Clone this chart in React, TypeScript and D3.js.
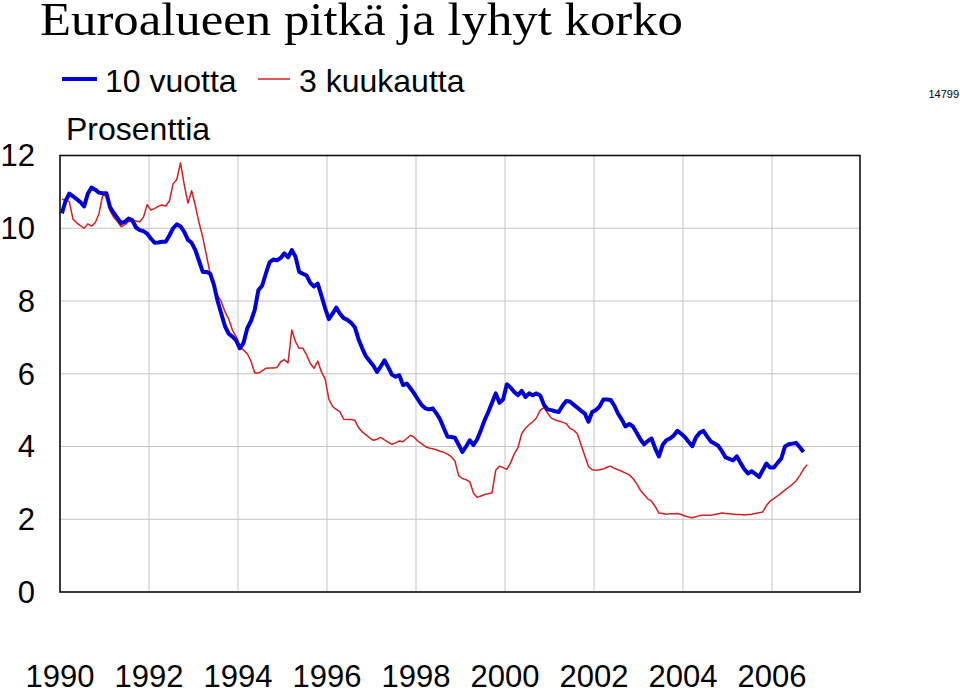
import React from "react";
import * as d3 from "d3";

const title = "Euroalueen pitkä ja lyhyt korko";
const unitLabel = "Prosenttia";
const seriesNames = ["10 vuotta", "3 kuukautta"];
const chartId = "14799";
const startYear = 1990;
const xTicks = [1990, 1992, 1994, 1996, 1998, 2000, 2002, 2004, 2006];
const yTicks = [0, 2, 4, 6, 8, 10, 12];

// Monthly values starting January 1990
const long10y = [
  10.41, 10.75, 10.95, 10.88, 10.8, 10.72, 10.6, 10.95, 11.12, 11.06, 10.98, 10.96,
  10.96, 10.58, 10.42, 10.28, 10.14, 10.18, 10.27, 10.22, 10.02, 9.95, 9.92, 9.85,
  9.72, 9.6, 9.61, 9.63, 9.63, 9.8, 10.0, 10.11, 10.05, 9.9, 9.68, 9.6,
  9.4, 9.1, 8.8, 8.8, 8.75, 8.45, 8.0, 7.65, 7.3, 7.1, 7.02, 6.92,
  6.7, 6.85, 7.25, 7.45, 7.75, 8.3, 8.42, 8.75, 9.06, 9.14, 9.12, 9.18,
  9.31, 9.2, 9.4, 9.22, 8.8, 8.75, 8.7, 8.5, 8.4, 8.48, 8.15, 7.8,
  7.5, 7.65, 7.82, 7.65, 7.53, 7.48, 7.4, 7.28, 6.95, 6.7, 6.48, 6.35,
  6.22, 6.05, 6.2, 6.37, 6.18, 5.98, 5.92, 5.96, 5.69, 5.73, 5.6, 5.46,
  5.3, 5.14, 5.05, 5.02, 5.05, 4.91, 4.75, 4.5, 4.27, 4.26, 4.24, 4.05,
  3.85, 4.0, 4.17, 4.04, 4.2, 4.45, 4.72, 4.95, 5.2, 5.46, 5.2, 5.3,
  5.71, 5.62, 5.5, 5.41, 5.53, 5.36, 5.46, 5.41, 5.46, 5.4, 5.15, 5.02,
  5.0, 4.97, 4.95, 5.12, 5.25, 5.24, 5.15, 5.07, 4.98, 4.91, 4.68, 4.95,
  5.0, 5.1, 5.29, 5.29, 5.28, 5.12, 4.9, 4.74, 4.55, 4.62, 4.55, 4.38,
  4.2, 4.06, 4.15, 4.22, 3.95, 3.73, 4.04, 4.17, 4.22, 4.3, 4.43, 4.35,
  4.26, 4.13, 4.01, 4.25, 4.38, 4.43, 4.28, 4.14, 4.08, 4.02, 3.87, 3.7,
  3.66, 3.62, 3.73, 3.55, 3.38, 3.26, 3.32, 3.25, 3.16, 3.35, 3.53, 3.42,
  3.42, 3.55, 3.67, 4.0, 4.06, 4.08, 4.1, 3.98, 3.85,
];

const short3m = [
  10.8, 10.78, 10.73, 10.25, 10.15, 10.07, 10.0, 10.12, 10.06, 10.15, 10.4, 10.9,
  10.91, 10.48, 10.3, 10.18, 10.04, 10.1, 10.18, 10.21, 10.2, 10.18, 10.3, 10.65,
  10.5, 10.54, 10.6, 10.64, 10.61, 10.75, 11.22, 11.34, 11.8, 11.2, 10.69, 11.03,
  10.62, 10.15, 9.75, 9.25, 8.75, 8.35, 8.15, 7.98, 7.7, 7.5, 7.2, 7.02,
  6.75, 6.65, 6.55, 6.35, 6.02, 6.02, 6.08, 6.15, 6.16, 6.16, 6.17, 6.33,
  6.39, 6.3, 7.2, 6.88, 6.7, 6.7, 6.52, 6.28, 6.15, 6.35, 6.05, 5.85,
  5.3, 5.1, 5.02, 4.95, 4.75, 4.74, 4.74, 4.72, 4.52, 4.4, 4.32, 4.24,
  4.17, 4.2, 4.25, 4.18, 4.12, 4.06, 4.1, 4.15, 4.13, 4.22, 4.31, 4.25,
  4.15, 4.08, 4.0, 3.96, 3.94, 3.91, 3.87, 3.84, 3.79, 3.72, 3.6, 3.2,
  3.12, 3.09, 3.03, 2.72, 2.6, 2.64, 2.68, 2.7, 2.73, 3.35, 3.46, 3.42,
  3.37, 3.55, 3.8, 3.97, 4.35, 4.5, 4.6, 4.68, 4.79, 5.0, 5.07, 4.92,
  4.78, 4.73, 4.7, 4.67, 4.63, 4.5, 4.45, 4.35, 4.05, 3.75, 3.45, 3.36,
  3.35, 3.36, 3.38, 3.43, 3.46, 3.4, 3.36, 3.32, 3.27, 3.22, 3.12, 2.98,
  2.8, 2.68, 2.56, 2.5, 2.35, 2.17, 2.16, 2.14, 2.15, 2.15, 2.16, 2.13,
  2.09, 2.06, 2.04, 2.07, 2.1, 2.11, 2.11, 2.11, 2.13, 2.15, 2.17, 2.16,
  2.15, 2.14, 2.13, 2.13, 2.12, 2.13, 2.14, 2.16, 2.18, 2.2, 2.38, 2.5,
  2.57, 2.64, 2.72, 2.8, 2.88, 2.96, 3.06, 3.2, 3.38, 3.5,
];

const W = 960;
const H = 691;
const left = 60;
const right = 860;
const top = 155.5;
const bottom = 592;

export default function App() {
  const x = d3.scaleLinear().domain([1990, 2008]).range([left, 861]);
  const y = d3.scaleLinear().domain([0, 12]).range([bottom, top]);
  const toPts = (arr: number[]) => arr.map((v, i) => [startYear + (i + 0.5) / 12, v] as [number, number]);
  const line = d3
    .line<[number, number]>()
    .x((d) => x(d[0]))
    .y((d) => y(d[1]));
  const sans = "'Liberation Sans', Arial, Helvetica, sans-serif";

  return (
    <svg width={W} height={H} style={{ position: "absolute", left: 0, top: 0, background: "#fff" }}>
      <rect x={0} y={0} width={W} height={H} fill="#fff" />
      <text
        x={40}
        y={35}
        fontFamily="'Liberation Serif', 'Times New Roman', serif"
        fontSize={46}
        textLength={643}
        lengthAdjust="spacingAndGlyphs"
        fill="#000"
      >
        {title}
      </text>
      {/* legend */}
      <line x1={62} x2={97} y1={79} y2={79} stroke="#0000d8" strokeWidth={4} />
      <text x={105} y={92} fontFamily={sans} fontSize={32} fill="#000">
        {seriesNames[0]}
      </text>
      <line x1={258} x2={290} y1={79} y2={79} stroke="#d42020" strokeWidth={1.5} />
      <text x={299} y={92} fontFamily={sans} fontSize={32} fill="#000">
        {seriesNames[1]}
      </text>
      <text x={66} y={140} fontFamily={sans} fontSize={32} fill="#000">
        {unitLabel}
      </text>
      <text x={959} y={98} textAnchor="end" fontFamily={sans} fontSize={11} fill="#000">
        {chartId}
      </text>
      {/* grid */}
      {yTicks.map((t) => (
        <line key={"gy" + t} x1={left} x2={right} y1={y(t)} y2={y(t)} stroke="#c4c4c4" strokeWidth={1} />
      ))}
      {xTicks.map((t) => (
        <line key={"gx" + t} x1={x(t)} x2={x(t)} y1={top} y2={bottom} stroke="#c4c4c4" strokeWidth={1} />
      ))}
      {/* series */}
      <path d={line(toPts(short3m)) || ""} fill="none" stroke="#d42020" strokeWidth={1.5} strokeLinejoin="round" />
      <path d={line(toPts(long10y)) || ""} fill="none" stroke="#0000d8" strokeWidth={4} strokeLinejoin="round" />
      {/* frame */}
      <rect x={left} y={top} width={right - left} height={bottom - top} fill="none" stroke="#111" strokeWidth={1.6} />
      {/* y labels */}
      {yTicks.map((t) => (
        <text key={"ty" + t} x={35} y={y(t)} dy="0.35em" textAnchor="end" fontFamily={sans} fontSize={31} fill="#000">
          {t}
        </text>
      ))}
      {xTicks.map((t) => (
        <text key={"tx" + t} x={x(t)} y={687} textAnchor="middle" fontFamily={sans} fontSize={31} fill="#000">
          {t}
        </text>
      ))}
    </svg>
  );
}
